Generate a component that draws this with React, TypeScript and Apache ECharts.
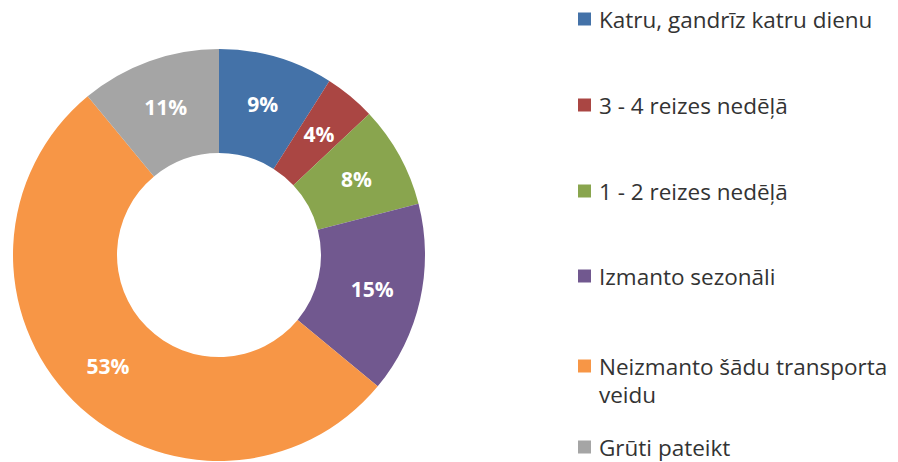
import React, { useEffect, useRef } from "react";
import * as echarts from "echarts";

const categories = [
  "Katru, gandrīz katru dienu",
  "3 - 4 reizes nedēļā",
  "1 - 2 reizes nedēļā",
  "Izmanto sezonāli",
  "Neizmanto šādu transporta veidu",
  "Grūti pateikt",
];
const values = [9, 4, 8, 15, 53, 11];
const colors = ["#4472A8", "#AA4643", "#89A54E", "#71588F", "#F79646", "#A5A5A5"];
const legendCenters = [19, 105, 191, 276, 366, 447];

export default function App() {
  const ref = useRef<HTMLDivElement>(null);
  useEffect(() => {
    if (!ref.current) return;
    const chart = echarts.init(ref.current, undefined, { renderer: "svg" });
    const fontFamily = "'Open Sans', sans-serif";
    const legends = categories.map((name, i) => ({
      show: true,
      data: [name],
      left: 578,
      top: legendCenters[i] - 13,
      icon: "rect",
      itemWidth: 13,
      itemHeight: 13,
      itemGap: 0,
      padding: 0,
      selectedMode: false,
      formatter: (n: string) =>
        n === "Neizmanto šādu transporta veidu" ? "Neizmanto šādu transporta" : n,
      textStyle: {
        fontFamily,
        fontSize: 22.5,
        color: "#333333",
        padding: [0, 0, 0, 3],
        lineHeight: 26,
      },
    }));
    chart.setOption({
      animation: false,
      color: colors,
      legend: legends,
      graphic: [
        {
          type: "text",
          left: 599,
          top: 381,
          style: {
            text: "veidu",
            fontFamily,
            fontSize: 22.5,
            lineHeight: 26,
            fill: "#333333",
          },
        },
      ],
      series: [
        {
          type: "pie",
          center: [219, 255],
          radius: [102, 206],
          startAngle: 90,
          clockwise: true,
          avoidLabelOverlap: false,
          label: {
            show: true,
            position: "inside",
            formatter: "{c}%",
            color: "#ffffff",
            fontFamily,
            fontWeight: "bold",
            fontSize: 21,
          },
          labelLine: { show: false },
          itemStyle: { borderWidth: 0 },
          emphasis: { disabled: true },
          data: categories.map((name, i) => ({ name, value: values[i] })),
        },
      ],
    });
    return () => chart.dispose();
  }, []);
  return (
    <div
      ref={ref}
      style={{ position: "absolute", left: 0, top: 0, width: 898, height: 462, background: "#fff" }}
    />
  );
}
